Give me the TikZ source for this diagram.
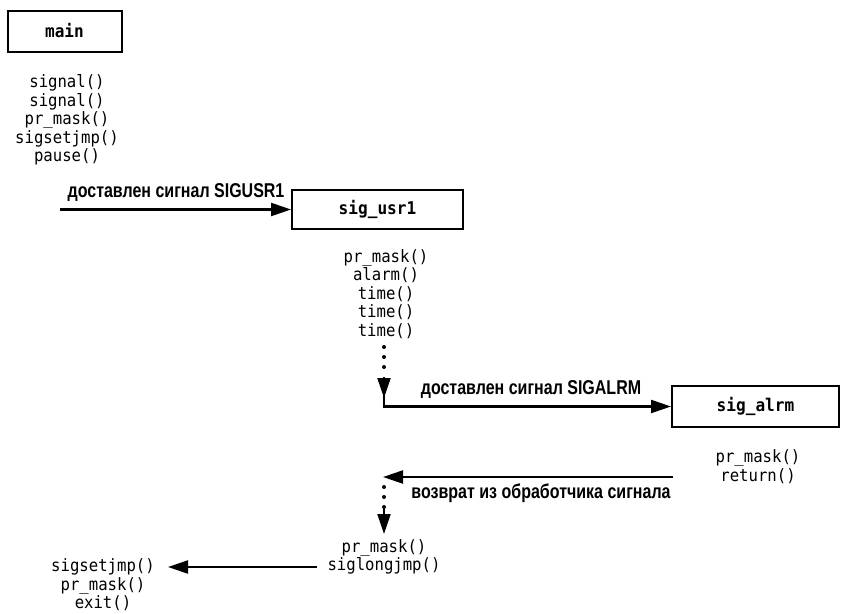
\documentclass[tikz,border=0pt]{standalone}
\usepackage{fontspec}
\usetikzlibrary{arrows.meta}
\newfontfamily\monof[FakeStretch=0.92]{DejaVu Sans Mono}
\newfontfamily\labf{Liberation Sans}
\newcommand\sglab[1]{\scalebox{0.8}[1]{\labf\bfseries\fontsize{20}{22}\selectfont #1}}
\begin{document}
\begin{tikzpicture}[x=1pt,y=-1pt,
  procbox/.style={draw, line width=2pt, inner sep=0pt, font=\monof\bfseries\fontsize{17.5}{19}\selectfont},
  calls/.style={align=center, inner sep=0pt, font=\monof\fontsize{17}{18.5}\selectfont},
  lab/.style={inner sep=0pt},
  arr/.style={line width=2.2pt, -{Triangle[length=20pt,width=13pt]}},
  dots/.style={line width=4pt, line cap=round, dash pattern=on 0pt off 10pt}]
\fill[white] (0,0) rectangle (842,613);
\useasboundingbox (0,0) rectangle (842,613);
% main
\node[procbox, minimum width=114pt, minimum height=41pt] (main) at (64.5,31) {main};
\node[calls] (maincalls) at (67,120) {signal()\\signal()\\pr\_mask()\\sigsetjmp()\\pause()};
% SIGUSR1
\node[procbox, minimum width=171pt, minimum height=39pt] (usr1) at (377.5,209.5) {sig\_usr1};
\coordinate (u0) at (60,209.5);
\draw[arr] (u0) -- (usr1.west);
\node[lab] (lu) at (176,193) {\sglab{доставлен сигнал SIGUSR1}};
\node[calls] (usr1calls) at (386,294) {pr\_mask()\\alarm()\\time()\\time()\\time()};
% dots to SIGALRM
\coordinate (d1a) at (384,347);
\coordinate (d1b) at (384,377);
\draw[dots] (d1a) -- (d1b);
\draw[arr] (d1b) -- ++(0,21);
\node[procbox, minimum width=167pt, minimum height=41pt] (alrm) at (755.5,406.5) {sig\_alrm};
\coordinate (c1) at (384,394);
\draw[arr] (c1) |- (alrm.west);
\node[lab] (la) at (531,390) {\sglab{доставлен сигнал SIGALRM}};
\node[calls] (alrmcalls) at (758,466.5) {pr\_mask()\\return()};
% return
\coordinate (r0) at (673,477);
\coordinate (r1) at (383,477);
\draw[arr] (r0) -- (r1);
\node[lab] (lr) at (541,493) {\sglab{возврат из обработчика сигнала}};
\coordinate (d2a) at (384,487);
\coordinate (d2b) at (384,509);
\draw[dots] (d2a) -- (d2b);
\draw[arr] (d2b) -- ++(0,25);
\node[calls] (midcalls) at (384,557) {pr\_mask()\\siglongjmp()};
\coordinate (j0) at (317,567);
\coordinate (j1) at (168,567);
\draw[arr] (j0) -- (j1);
\node[calls] (leftcalls) at (103,585) {sigsetjmp()\\pr\_mask()\\exit()};
\end{tikzpicture}
\end{document}
